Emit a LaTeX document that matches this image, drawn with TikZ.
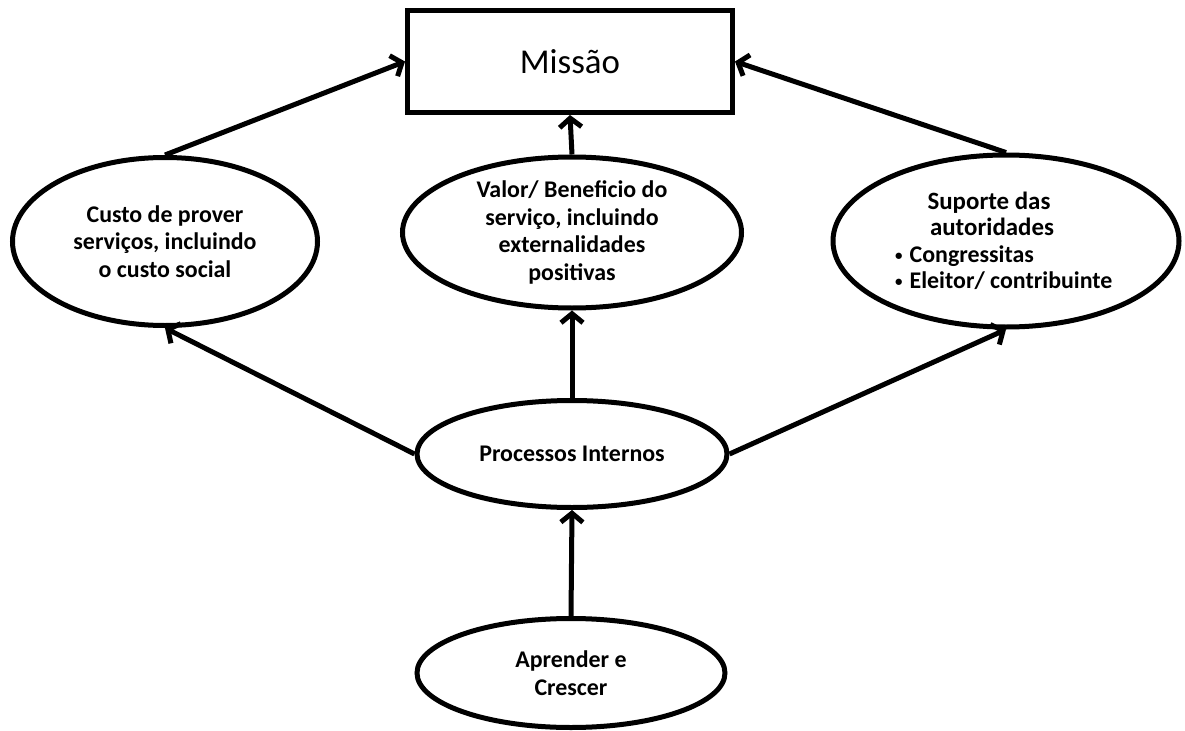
\documentclass[tikz,border=0pt]{standalone}
\usepackage{fontspec}
\setmainfont{Carlito}
\usetikzlibrary{shapes.geometric,arrows.meta}
\newcommand{\smbul}{{\fontsize{15}{15}\selectfont\raisebox{2bp}{\textbullet}}\hspace{7bp}}
\begin{document}
\begin{tikzpicture}[x=1bp,y=-1bp,
  oval/.style={draw, ellipse, line width=5bp, inner sep=0pt, align=center,
    font=\fontsize{24}{27.5}\selectfont\bfseries},
  head/.style={inner sep=0pt, anchor=base, font=\fontsize{25}{25}\selectfont\bfseries},
  bul/.style={inner sep=0pt, anchor=base west, font=\fontsize{24}{26}\selectfont\bfseries},
  boxnode/.style={draw, rectangle, line width=5bp, inner sep=0pt,
    minimum width=325bp, minimum height=102bp, font=\fontsize{35}{38}\selectfont},
  conn/.style={line width=5bp, line join=miter, -{Straight Barb[length=9bp,width=22bp]}}]
\useasboundingbox (0,0) rectangle (1185,731);
\node[boxnode] (mis) at (570,61.5) {Missão};
\node[oval, minimum width=305bp, minimum height=168bp] (L) at (165,241.5)
  {Custo de prover\\serviços, incluindo\\o custo social};
\node[oval, minimum width=339bp, minimum height=151bp] (M) at (572,232.5)
  {Valor/ Beneficio do\\serviço, incluindo\\externalidades\\positivas};
\node[oval, minimum width=346bp, minimum height=172bp] (R) at (1006,241) {};
\node[head] (Rh1) at (989,210) {Suporte das};
\node[head] (Rh2) at (992,236) {autoridades};
\node[bul] (Rb1) at (895,262) {\smbul Congressitas};
\node[bul] (Rb2) at (895,288) {\smbul Eleitor/ contribuinte};
\node[oval, minimum width=310bp, minimum height=107bp] (P) at (572,454)
  {Processos Internos};
\node[oval, minimum width=308bp, minimum height=109bp] (A) at (571,673)
  {Aprender e\\Crescer};
\draw[conn] (L.north) -- (mis.west);
\draw[conn] (M.north) -- (mis.south);
\draw[conn] (R.north) -- (mis.east);
\draw[conn] (P.west) -- (L.south);
\draw[conn] (P.north) -- (M.south);
\draw[conn] (P.east) -- (R.south);
\draw[conn] (A.north) -- (P.south);
\end{tikzpicture}
\end{document}
